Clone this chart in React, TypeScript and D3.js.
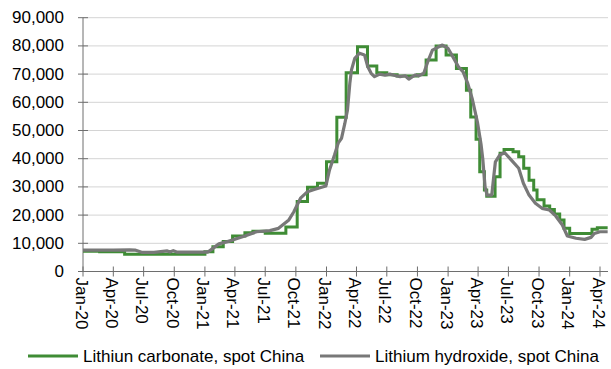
import React from "react";
import * as d3 from "d3";

// Axis labels
const xTickLabels = [
  "Jan-20", "Apr-20", "Jul-20", "Oct-20",
  "Jan-21", "Apr-21", "Jul-21", "Oct-21",
  "Jan-22", "Apr-22", "Jul-22", "Oct-22",
  "Jan-23", "Apr-23", "Jul-23", "Oct-23",
  "Jan-24", "Apr-24",
];
const yTicks = [0, 10000, 20000, 30000, 40000, 50000, 60000, 70000, 80000, 90000];

// Lithium carbonate, spot China (step series)
const carbonateDates = [
  "2020-01-01", "2020-02-20", "2020-05-05", "2021-01-01", "2021-01-25",
  "2021-02-25", "2021-03-25", "2021-05-01", "2021-05-25", "2021-07-01",
  "2021-09-01", "2021-10-05", "2021-11-05", "2021-12-05", "2022-01-01",
  "2022-02-01", "2022-03-01", "2022-04-04", "2022-05-04", "2022-06-01",
  "2022-07-01", "2022-08-01", "2022-09-01", "2022-10-01", "2022-10-27",
  "2022-11-26", "2022-12-26", "2023-01-26", "2023-02-25", "2023-03-10",
  "2023-03-26", "2023-04-06", "2023-04-20", "2023-04-27", "2023-05-22",
  "2023-06-06", "2023-06-18", "2023-07-15", "2023-08-01", "2023-08-16",
  "2023-09-01", "2023-09-15", "2023-09-25", "2023-10-16", "2023-11-02",
  "2023-11-16", "2023-12-02", "2023-12-15", "2024-01-01", "2024-03-08",
  "2024-03-24", "2024-04-24",
];
const carbonateValues = [
  7200, 7000, 6100, 7000, 8800,
  10600, 12600, 13700, 14300, 13600,
  15800, 24800, 29900, 31300, 38900,
  54700, 70500, 79700, 72900, 70500,
  69800, 69300, 69300, 69800, 75000,
  80000, 76800, 72000, 64300, 54800,
  46900, 35400, 28900, 26700, 33600,
  41900, 43300, 42500, 40700, 36600,
  32400, 28900, 25400, 23200, 22000,
  20400, 18300, 15300, 13500, 15000,
  15500, 15500,
];

// Lithium hydroxide, spot China (weekly-style series)
const hydroxideDates = [
  "2020-01-01", "2020-02-15", "2020-04-01", "2020-05-20", "2020-06-05",
  "2020-06-25", "2020-08-01", "2020-09-10", "2020-09-18", "2020-09-28",
  "2020-10-08", "2020-10-20", "2020-12-01", "2021-01-10", "2021-01-25",
  "2021-02-12", "2021-03-10", "2021-04-10", "2021-05-01", "2021-06-05",
  "2021-07-15", "2021-08-10", "2021-09-10", "2021-09-25", "2021-10-15",
  "2021-11-05", "2021-11-25", "2021-12-30", "2022-01-10", "2022-01-25",
  "2022-02-05", "2022-02-15", "2022-02-25", "2022-03-05", "2022-03-12",
  "2022-03-17", "2022-03-27", "2022-04-10", "2022-04-25", "2022-05-05",
  "2022-05-15", "2022-05-25", "2022-06-10", "2022-06-25", "2022-07-10",
  "2022-07-25", "2022-08-10", "2022-08-25", "2022-09-05", "2022-09-15",
  "2022-09-25", "2022-10-05", "2022-10-20", "2022-11-01", "2022-11-15",
  "2022-12-01", "2022-12-15", "2023-01-01", "2023-01-15", "2023-02-01",
  "2023-02-15", "2023-03-01", "2023-03-15", "2023-03-30", "2023-04-10",
  "2023-04-15", "2023-04-22", "2023-04-28", "2023-05-12", "2023-05-18",
  "2023-05-23", "2023-06-05", "2023-06-20", "2023-07-10", "2023-08-01",
  "2023-08-15", "2023-09-01", "2023-09-20", "2023-10-10", "2023-11-01",
  "2023-11-20", "2023-12-10", "2023-12-25", "2024-01-20", "2024-02-15",
  "2024-03-05", "2024-03-15", "2024-04-01", "2024-04-24",
];
const hydroxideValues = [
  7600, 7600, 7600, 7700, 7600,
  6800, 6800, 7300, 6900, 7400,
  6900, 6900, 6900, 6900, 8200,
  9800, 10600, 11800, 12600, 14100,
  14500, 15300, 18300, 21200, 26000,
  28300, 29100, 30300, 36000, 41300,
  45500, 47200, 52500, 57300, 66700,
  71500, 75600, 77400, 76800, 72600,
  70300, 69100, 70000, 69600, 70000,
  69500, 69100, 69400, 68200, 69000,
  69700, 69400, 70300, 74400, 78500,
  79500, 80300, 79100, 76200, 72600,
  70800, 66700, 61000, 53000, 45000,
  40000, 30000, 27100, 27100, 33600,
  38900, 41300, 42100, 39500, 36600,
  31300, 27100, 24200, 22400, 21800,
  19700, 16500, 12600, 11800, 11400,
  12100, 13500, 14100, 14100,
];

const WIDTH = 611;
const HEIGHT = 369;
const FONT = "'Liberation Sans', Arial, sans-serif";

const parseDay = d3.timeParse("%Y-%m-%d");
const parseTick = d3.timeParse("%b-%y");

export default function App() {
  const x = d3
    .scaleTime()
    .domain([new Date(2020, 0, 1), new Date(2024, 3, 1)])
    .range([83, 600]);
  const y = d3.scaleLinear().domain([0, 90000]).range([271.5, 17.7]);

  const carbonate = carbonateDates.map((d, i) => ({ date: parseDay(d)!, value: carbonateValues[i] }));
  const hydroxide = hydroxideDates.map((d, i) => ({ date: parseDay(d)!, value: hydroxideValues[i] }));

  const stepLine = d3
    .line<{ date: Date; value: number }>()
    .x((d) => x(d.date))
    .y((d) => y(d.value))
    .curve(d3.curveStepAfter);
  const smoothLine = d3
    .line<{ date: Date; value: number }>()
    .x((d) => x(d.date))
    .y((d) => y(d.value));

  const fmt = d3.format(",");
  const x0 = x.range()[0];
  const xEnd = 608;
  const yBase = y(0);

  return (
    <div style={{ position: "absolute", left: 0, top: 0 }}>
      <svg width={WIDTH} height={HEIGHT} style={{ display: "block", background: "#fff" }}>
        {/* gridlines */}
        {yTicks.slice(1).map((t) => (
          <line key={"g" + t} x1={x0} x2={xEnd} y1={y(t)} y2={y(t)} stroke="#d4d4d4" strokeWidth={1} />
        ))}
        {/* y axis */}
        <line x1={x0} x2={x0} y1={y(90000)} y2={yBase} stroke="#6e6e6e" strokeWidth={1} />
        {yTicks.map((t) => (
          <g key={"y" + t}>
            <line x1={x0 - 5} x2={x0 + 5} y1={y(t)} y2={y(t)} stroke="#6e6e6e" strokeWidth={1} />
            <text
              x={64}
              y={y(t)}
              textAnchor="end"
              dominantBaseline="central"
              fontFamily={FONT}
              fontSize={17}
              fill="#000"
            >
              {fmt(t)}
            </text>
          </g>
        ))}
        {/* x axis */}
        <line x1={x0} x2={xEnd} y1={yBase} y2={yBase} stroke="#6e6e6e" strokeWidth={1} />
        {xTickLabels.map((lab) => {
          const tx = x(parseTick(lab)!);
          return (
            <g key={lab}>
              <line x1={tx} x2={tx} y1={yBase - 5} y2={yBase + 5} stroke="#6e6e6e" strokeWidth={1} />
              <text
                transform={`translate(${tx - 2},${yBase + 6}) rotate(90)`}
                textAnchor="start"
                dominantBaseline="central"
                fontFamily={FONT}
                fontSize={17}
                fill="#000"
              >
                {lab}
              </text>
            </g>
          );
        })}
        {/* series */}
        <path d={stepLine(carbonate) ?? ""} fill="none" stroke="#3f8c35" strokeWidth={3} strokeLinejoin="miter" />
        <path d={smoothLine(hydroxide) ?? ""} fill="none" stroke="#787878" strokeWidth={3.2} strokeLinejoin="round" />
        {/* legend */}
        <line x1={28} x2={78} y1={356} y2={356} stroke="#3f8c35" strokeWidth={3} />
        <text x={83} y={356} dominantBaseline="central" fontFamily={FONT} fontSize={17} fill="#000">
          Lithiun carbonate, spot China
        </text>
        <line x1={320} x2={370} y1={356} y2={356} stroke="#787878" strokeWidth={3} />
        <text x={375} y={356} dominantBaseline="central" fontFamily={FONT} fontSize={17} fill="#000">
          Lithium hydroxide, spot China
        </text>
      </svg>
    </div>
  );
}
